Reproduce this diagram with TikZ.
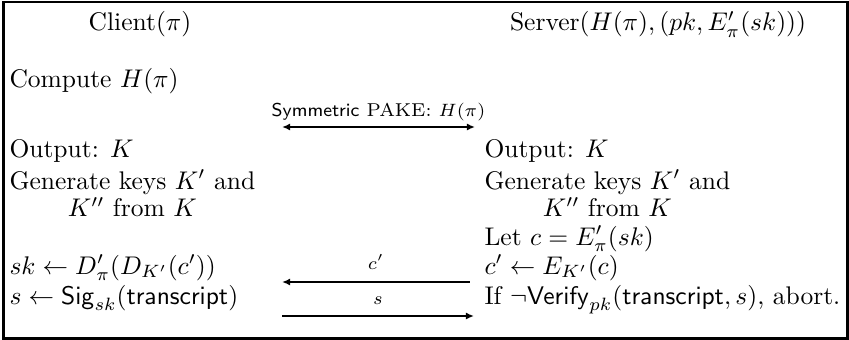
\documentclass[tikz,border=0pt]{standalone}
\usepackage{amsmath,amssymb}
\usetikzlibrary{arrows.meta}
\begin{document}
\begin{tikzpicture}[x=0.392pt,y=-0.392pt,
  txt/.style={inner sep=0pt,font=\normalsize},
  lt/.style={txt,anchor=base west},
  hd/.style={txt,anchor=base},
  msg/.style={line width=0.7pt},
  tip/.tip={Latex[length=3.2pt,width=2.8pt]},
  lab/.style={inner sep=0pt,font=\scriptsize}]
\useasboundingbox (0,0) rectangle (849,340);
\draw[line width=1pt] (3.7,2) rectangle (847.5,338.5);
% headers
\node[hd] (client) at (140,31) {Client$(\pi)$};
\node[hd] (server) at (658,31) {Server$(H(\pi),(pk,E'_\pi(sk)))$};
% client column
\node[lt] (comp) at (9,88) {Compute $H(\pi)$};
\node[lt] (outc) at (9,157) {Output: $K$};
\node[lt] (genc) at (9,189) {\begin{tabular}[t]{@{}c@{}}Generate keys $K'$ and\\[-1.2pt] $K''$ from $K$\end{tabular}};
\node[lt] (skc) at (9,274) {$sk\leftarrow D'_\pi(D_{K'}(c'))$};
\node[lt] (sc) at (9,304) {$s\leftarrow\mathsf{Sig}_{sk}(\mathsf{transcript})$};
% server column
\node[lt] (outs) at (484,157) {Output: $K$};
\node[lt] (gens) at (484,189) {\begin{tabular}[t]{@{}c@{}}Generate keys $K'$ and\\[-1.2pt] $K''$ from $K$\end{tabular}};
\node[lt] (letc) at (484,245) {Let $c=E'_\pi(sk)$};
\node[lt] (cps) at (484,274) {$c'\leftarrow E_{K'}(c)$};
\node[lt] (ver) at (484,304) {If $\neg\mathsf{Verify}_{pk}(\mathsf{transcript},s)$, abort.};
% message ends
\coordinate (pakeL) at (282,127);
\coordinate (pakeR) at (475,127);
\coordinate (cL) at (282,282);
\coordinate (cR) at (470,282);
\coordinate (sL) at (282,316);
\coordinate (sR) at (474,316);
\draw[msg,{tip}-{tip}] (pakeL) -- node[above=2.2pt,inner sep=0pt,font=\fontsize{7.3}{9}\selectfont] (pakelab) {\textsf{Symmetric} PAKE: $H(\pi)$} (pakeR);
\draw[msg,{tip}-] (cL) -- node[above=4.5pt,lab] (clab) {$c'$} (cR);
\draw[msg,-{tip}] (sL) -- node[above=4pt,lab] (slab) {$s$} (sR);
\end{tikzpicture}
\end{document}
